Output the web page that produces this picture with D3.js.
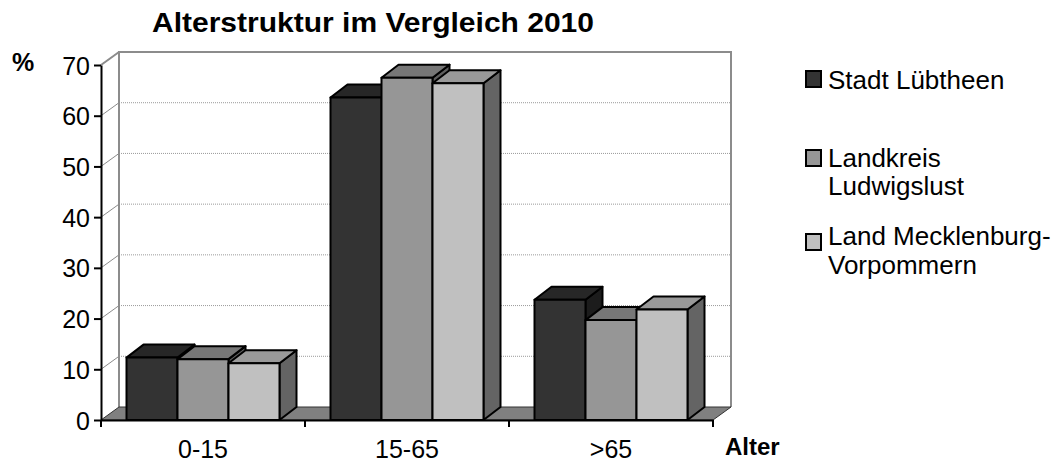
<!DOCTYPE html>
<html><head><meta charset="utf-8">
<script src="https://cdn.jsdelivr.net/npm/d3@7"></script>
<style>body{margin:0;background:#fff} text{font-family:"Liberation Sans",Arial,sans-serif;fill:#000}</style>
</head><body><svg id="c" width="1057" height="462"></svg>
<script>
const categories = ["0-15", "15-65", ">65"];
const seriesNames = ["Stadt Lübtheen", "Landkreis Ludwigslust", "Land Mecklenburg-Vorpommern"];
const legendLines = [["Stadt Lübtheen"], ["Landkreis", "Ludwigslust"], ["Land Mecklenburg-", "Vorpommern"]];
const lubtheen = [12.3, 63.6, 23.7];
const ludwigslust = [12.0, 67.5, 19.7];
const mecklenburgVorpommern = [11.2, 66.4, 21.8];
const yTicks = [0, 10, 20, 30, 40, 50, 60, 70];
const series = [lubtheen, ludwigslust, mecklenburgVorpommern];

const frontCol = ["#333333", "#969696", "#c0c0c0"];
const topCol = ["#272727", "#777777", "#999999"];
const sideCol = ["#1c1c1c", "#5e5e5e", "#646464"];

const svg = d3.select("#c");
const L = 101, R = 713, B = 420, T = 65;
const wdx = 18, wdy = 13;   // wall depth
const bdx = 17, bdy = 13;   // bar depth

const y = d3.scaleLinear().domain([0, 70]).range([B, T]);
const x = d3.scaleBand().domain(categories).range([L, R]).padding(0);
const bw = x.bandwidth();
const inner = d3.scaleBand().domain(d3.range(series.length)).range([bw * 0.125, bw * 0.875]).padding(0);

// back wall gridlines (dotted)
const g = svg.append("g");
yTicks.slice(1, -1).forEach(t => {
  g.append("line").attr("x1", L + wdx).attr("x2", R + wdx).attr("y1", y(t) - wdy).attr("y2", y(t) - wdy)
    .attr("stroke", "#9a9a9a").attr("stroke-width", 1).attr("stroke-dasharray", "1,1");
});
// side wall diagonals
yTicks.slice(1).forEach(t => {
  g.append("line").attr("x1", L).attr("y1", y(t)).attr("x2", L + wdx).attr("y2", y(t) - wdy)
    .attr("stroke", "#8a8a8a").attr("stroke-width", 1);
});
// wall outlines
g.append("path").attr("d", `M${L + wdx},${B - wdy}V${T - wdy}H${R + wdx}V${B - wdy}`)
  .attr("fill", "none").attr("stroke", "#8c8c8c").attr("stroke-width", 2);
g.append("line").attr("x1", L).attr("y1", T).attr("x2", L + wdx).attr("y2", T - wdy)
  .attr("stroke", "#8c8c8c").attr("stroke-width", 2);

// floor
g.append("path").attr("d", `M${L},${B}L${R},${B}L${R + wdx},${B - wdy}L${L + wdx},${B - wdy}Z`)
  .attr("fill", "#808080").attr("stroke", "#333").attr("stroke-width", 1);

// bars
categories.forEach((c, ci) => {
  series.forEach((s, si) => {
    const x0 = x(c) + inner(si), x1 = x0 + inner.bandwidth();
    const yt = y(s[ci]);
    const bg = svg.append("g").attr("stroke", "#000").attr("stroke-width", 2).attr("stroke-linejoin", "round");
    bg.append("path").attr("d", `M${x1},${yt}L${x1 + bdx},${yt - bdy}L${x1 + bdx},${B - bdy}L${x1},${B}Z`).attr("fill", sideCol[si]);
    bg.append("path").attr("d", `M${x0},${yt}L${x0 + bdx},${yt - bdy}L${x1 + bdx},${yt - bdy}L${x1},${yt}Z`).attr("fill", topCol[si]);
    bg.append("rect").attr("x", x0).attr("y", yt).attr("width", x1 - x0).attr("height", B - yt).attr("fill", frontCol[si]);
  });
});

// axes
const ya = svg.append("g").attr("transform", `translate(${L},0)`)
  .call(d3.axisLeft(y).tickValues(yTicks).tickSize(7).tickPadding(4).tickSizeOuter(0));
ya.select(".domain").attr("stroke", "#000").attr("stroke-width", 2);
ya.selectAll(".tick line").attr("stroke", "#000").attr("stroke-width", 2);
ya.selectAll(".tick text").attr("font-size", 25).attr("font-family", "Liberation Sans, Arial, sans-serif").attr("dy", "0.36em");

const xa = svg.append("g").attr("transform", `translate(0,${B})`)
  .call(d3.axisBottom(x).tickSize(0).tickPadding(20).tickSizeOuter(0));
xa.select(".domain").attr("stroke", "#000").attr("stroke-width", 2);
xa.selectAll(".tick text").attr("font-size", 25).attr("font-family", "Liberation Sans, Arial, sans-serif");
// x ticks at band boundaries
[...categories.map(c => x(c)), R].forEach(v => {
  svg.append("line").attr("x1", v).attr("x2", v).attr("y1", B).attr("y2", B + 7).attr("stroke", "#000").attr("stroke-width", 2);
});

// titles
svg.append("text").attr("x", 373).attr("y", 32).attr("text-anchor", "middle").attr("font-weight", "bold")
  .attr("font-size", 27).attr("textLength", 442).attr("lengthAdjust", "spacingAndGlyphs").text("Alterstruktur im Vergleich 2010");
svg.append("text").attr("x", 12).attr("y", 71).attr("font-weight", "bold").attr("font-size", 25).text("%");
svg.append("text").attr("x", 725).attr("y", 455).attr("font-weight", "bold").attr("font-size", 24).text("Alter");

// legend
const legTop = [70, 149, 233];
const legBase = [89, 166.5, 245];
legendLines.forEach((lines, i) => {
  svg.append("rect").attr("x", 806).attr("y", legTop[i] + 1).attr("width", 15).attr("height", 16)
    .attr("fill", frontCol[i]).attr("stroke", "#000").attr("stroke-width", 2);
  lines.forEach((ln, j) => {
    svg.append("text").attr("x", 828).attr("y", legBase[i] + j * 28.5).attr("font-size", 26).text(ln);
  });
});
</script></body></html>
